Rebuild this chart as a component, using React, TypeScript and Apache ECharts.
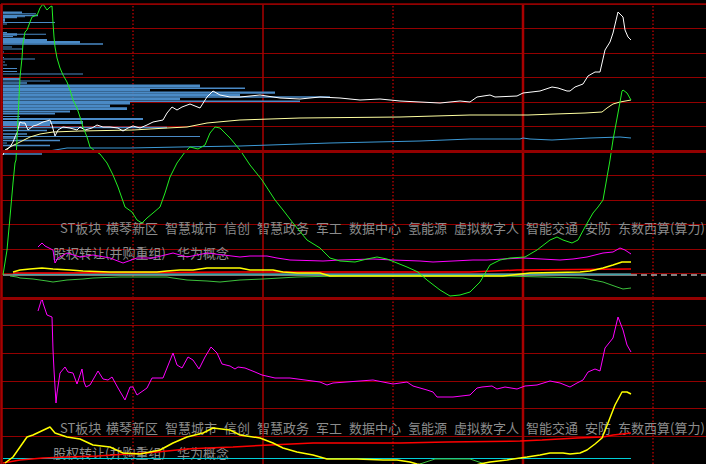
import React, { useEffect, useRef } from "react";
import * as echarts from "echarts";

const W = 706;
const H = 464;

// ---- Upper panel readings: [t, value] ----
const priceLine: number[][] = [
  [0, 143], [2, 148], [7, 151], [10, 156], [12, 161], [14, 165], [17, 176], [19, 175], [22, 175], [25, 168],
  [30, 172], [34, 173], [40, 176], [47, 178], [49, 173], [52, 162], [55, 168], [60, 171], [67, 170], [74, 168],
  [77, 171], [82, 168], [89, 170], [94, 173], [100, 171], [107, 171], [115, 170], [120, 167], [125, 170], [130, 172],
  [137, 170], [144, 173], [150, 176], [160, 178], [164, 185], [169, 191], [174, 188], [179, 191], [187, 194], [197, 190],
  [204, 201], [210, 207], [217, 203], [227, 201], [237, 201], [257, 203], [277, 200], [297, 199], [317, 201], [337, 200],
  [357, 198], [377, 199], [397, 197], [417, 196], [437, 195], [457, 197], [467, 196], [474, 201], [487, 203], [492, 201],
  [514, 202], [520, 205], [537, 207], [549, 211], [555, 210], [564, 207], [567, 207], [572, 211], [580, 214], [585, 222],
  [592, 226], [597, 226], [602, 248], [607, 256], [610, 265], [615, 286], [620, 281], [622, 268], [625, 261], [628, 258],
];

const avgLine: number[][] = [
  [0, 145], [7, 151], [17, 156], [27, 161], [37, 164], [50, 166], [77, 167], [130, 168], [164, 170], [184, 171],
  [204, 175], [237, 178], [297, 180], [397, 181], [467, 183], [525, 183], [552, 184], [582, 185], [599, 186], [604, 190],
  [610, 194], [617, 196], [628, 198],
];

const blueLine: number[][] = [
  [0, 145], [40, 146], [64, 150], [127, 150], [177, 151], [237, 152], [327, 155], [417, 157], [467, 159], [517, 159],
  [520, 160], [527, 159], [549, 158], [567, 159], [587, 160], [617, 161], [628, 160],
];

const greenLine: number[][] = [
  [0, 23], [4, 48], [7, 81], [10, 115], [12, 135], [13, 138], [17, 221], [19, 240], [20, 255], [22, 266],
  [24, 268], [27, 276], [29, 281], [34, 283], [35, 285], [37, 290], [40, 294], [44, 288], [47, 291], [49, 292],
  [50, 275], [51, 261], [52, 251], [54, 240], [57, 230], [60, 223], [64, 216], [67, 208], [70, 198], [74, 190],
  [77, 181], [80, 171], [84, 161], [87, 151], [92, 147], [97, 144], [104, 135], [110, 123], [115, 111], [122, 91],
  [129, 86], [134, 78], [139, 75], [144, 80], [150, 85], [157, 91], [162, 105], [167, 121], [174, 135], [182, 146],
  [187, 151], [195, 149], [202, 153], [207, 165], [212, 171], [217, 170], [227, 160], [237, 148], [247, 133], [259, 118],
  [272, 98], [280, 88], [290, 75], [304, 58], [317, 50], [327, 40], [337, 37], [352, 36], [364, 39], [374, 41],
  [384, 39], [394, 35], [404, 31], [415, 26], [424, 18], [437, 8], [447, 2], [457, 3], [467, 6], [477, 16],
  [487, 33], [497, 38], [507, 40], [522, 41], [534, 48], [547, 58], [554, 61], [560, 58], [569, 55], [575, 58],
  [582, 71], [590, 85], [595, 91], [600, 98], [607, 138], [610, 158], [615, 185], [619, 207], [620, 208], [624, 205],
  [628, 198],
];

const midMagenta: number[][] = [
  [35, 51], [39, 55], [42, 52], [50, 48], [52, 35], [55, 40], [64, 45], [77, 41], [90, 43], [107, 40],
  [120, 35], [134, 40], [150, 40], [170, 45], [184, 41], [204, 45], [237, 41], [247, 42], [264, 42], [274, 40],
  [287, 38], [320, 37], [337, 38], [370, 39], [390, 38], [417, 37], [430, 36], [450, 37], [470, 38], [484, 38],
  [500, 39], [520, 40], [557, 38], [570, 39], [584, 41], [600, 45], [610, 46], [617, 50], [622, 48], [628, 44],
];

const midYellow: number[][] = [
  [10, 26], [17, 28], [27, 29], [39, 30], [50, 29], [67, 28], [80, 27], [107, 26], [154, 26], [164, 27],
  [177, 28], [190, 28], [204, 30], [237, 30], [247, 28], [270, 28], [280, 26], [294, 25], [317, 25], [327, 22],
  [467, 22], [500, 22], [527, 25], [577, 26], [587, 27], [600, 30], [610, 33], [619, 36], [628, 36],
];

const midRed: number[][] = [[10, 25], [50, 25], [237, 26], [467, 26], [514, 28], [628, 29]];
const midCyan: number[][] = [[10, 24], [628, 24]];
const midWhite: number[][] = [[0, 23], [628, 23]];
const midWhiteDashed: number[][] = [[628, 23], [703, 23]];

const midGreen: number[][] = [
  [7, 22], [14, 21], [17, 20], [30, 19], [44, 17], [50, 16], [64, 18], [80, 19], [90, 20], [117, 21],
  [164, 21], [170, 20], [184, 18], [204, 17], [217, 16], [237, 18], [260, 19], [277, 20], [294, 21], [337, 22],
  [500, 22], [540, 21], [580, 20], [600, 16], [614, 11], [620, 9], [628, 10],
];

// volume-by-price bars: [length, level, levelSpan]
const profileBars: number[][] = [
  [19, 285.5, 2], [33, 284.2, 1], [35, 282.5, 1.5], [14, 281, 2.5], [22, 281.3, 1], [2, 278, 3.5], [52, 275.5, 1],
  [4, 274, 1], [4, 265.5, 1], [14, 263.5, 2.5], [43, 263.7, 1], [10, 261.5, 1], [22, 259.5, 1.5], [44, 258, 2],
  [77, 255.7, 2.5], [100, 254, 1.5], [9, 251, 1], [20, 249, 1], [1, 246, 1], [1, 240.5, 1], [32, 239, 1],
  [2, 236, 1], [4, 233, 1], [14, 229.5, 1], [14, 226.5, 1], [80, 224, 1], [17, 219, 2], [47, 217, 1],
  [24, 215, 1.5], [197, 212, 3], [242, 209.7, 1.5], [147, 207.7, 2.5], [272, 205.3, 2.2], [237, 203, 2.5], [327, 201, 1.5],
  [177, 199, 2.5], [297, 196.8, 1.5], [127, 194.8, 2.5], [107, 192.2, 2.8], [124, 189.3, 2.8], [67, 186.5, 1.8], [52, 184.3, 1.8],
  [17, 181.5, 1], [140, 179, 2.2], [80, 175.5, 2.8], [47, 173, 2], [164, 170.5, 1.5], [44, 167.5, 1.5], [24, 164, 1.5],
  [197, 161.5, 1], [14, 160, 1.5], [57, 157.5, 1.5], [4, 155, 1], [47, 152.5, 1.5], [40, 146, 1.5], [39, 144, 1.5],
];

// ---- Lower panel readings: [t, value] ----
const lowMagenta: number[][] = [
  [35, 153], [39, 166], [40, 161], [44, 149], [49, 147], [50, 114], [51, 94], [53, 61], [54, 71], [57, 91],
  [62, 97], [65, 92], [70, 91], [74, 80], [79, 95], [81, 82], [83, 77], [87, 79], [95, 93], [100, 85],
  [105, 84], [109, 87], [115, 76], [122, 64], [127, 77], [130, 77], [134, 69], [144, 76], [149, 86], [154, 86],
  [160, 86], [170, 111], [174, 99], [179, 96], [185, 107], [190, 104], [196, 95], [202, 107], [208, 117], [214, 111],
  [219, 100], [227, 98], [232, 95], [235, 97], [242, 96], [252, 92], [259, 89], [272, 86], [287, 86], [302, 84],
  [317, 82], [324, 79], [330, 81], [370, 84], [390, 80], [404, 82], [410, 78], [424, 74], [430, 72], [434, 67],
  [450, 67], [467, 69], [474, 76], [479, 77], [489, 78], [494, 75], [502, 77], [514, 75], [522, 78], [534, 79],
  [547, 83], [557, 81], [567, 77], [574, 81], [580, 84], [585, 92], [592, 95], [597, 93], [602, 116], [610, 126],
  [615, 147], [620, 134], [624, 119], [628, 112],
];

const lowYellow: number[][] = [
  [2, 1], [10, 7], [17, 17], [24, 27], [30, 29], [47, 37], [52, 31], [64, 27], [77, 25], [90, 19],
  [107, 17], [120, 11], [137, 10], [157, 14], [170, 21], [184, 27], [200, 31], [210, 36], [227, 34], [237, 29],
  [257, 26], [270, 21], [280, 16], [294, 12], [310, 9], [324, 5], [354, 5], [380, 4], [394, 4], [407, 2],
  [414, 0], [440, -4], [460, -4], [477, 0], [487, 2], [504, 4], [524, 7], [537, 9], [547, 11], [560, 11],
  [567, 10], [577, 11], [584, 14], [592, 20], [599, 26], [605, 41], [612, 59], [619, 72], [624, 72], [628, 70],
];

const lowGreen: number[][] = [[417, 0], [432, 5], [467, 5], [482, 0]];

const lowRed: number[][] = [
  [0, 1], [17, 4], [40, 6], [64, 7], [94, 8], [110, 9], [124, 10], [144, 11], [164, 13], [184, 15],
  [204, 16], [230, 17], [267, 19], [310, 21], [397, 21], [444, 22], [517, 23], [539, 24], [574, 26], [600, 27],
  [610, 29], [619, 30], [628, 31],
];

const lowCyan: number[][] = [[0, 5.5], [628, 5.5]];

// time guides: [t, kind]  kind 0 = dotted, 1 = thin solid, 2 = thick solid
const timeGuides: number[][] = [[-1.5, 2], [130, 0], [260, 1], [390, 0], [520, 2], [650, 0]];

// concept labels
const conceptRow1 = [
  "ST板块", "横琴新区", "智慧城市", "信创", "智慧政务", "军工", "数据中心",
  "氢能源", "虚拟数字人", "智能交通", "安防", "东数西算(算力)",
];
const conceptRow2 = ["股权转让(并购重组)", "华为概念"];

const GRID = "#930000";
const GUIDE = "#a80000";
const TEXT = "#8c8c8c";

function advance(s: string): number {
  let w = 0;
  for (const ch of s) w += ch.charCodeAt(0) < 128 ? 6.5 : 13;
  return w;
}

function rowTexts(items: string[], x0: number, y: number) {
  const out: any[] = [];
  let x = x0;
  for (const it of items) {
    out.push({
      type: "text",
      x,
      y,
      silent: true,
      z: 1,
      style: {
        text: it,
        fill: TEXT,
        fontSize: 13,
        fontFamily: "Noto Sans CJK SC",
        verticalAlign: "middle",
      },
    });
    x += advance(it) + 7;
  }
  return out;
}

function guideSeries(grid: number, top: number) {
  return {
    name: "guides" + grid,
    type: "custom",
    xAxisIndex: grid,
    yAxisIndex: grid,
    silent: true,
    z: 1,
    clip: false,
    data: timeGuides,
    renderItem: (params: any, api: any) => {
      const t = api.value(0);
      const kind = api.value(1);
      const a = api.coord([t, 0]);
      const b = api.coord([t, top]);
      return {
        type: "line",
        shape: { x1: a[0], y1: a[1], x2: b[0], y2: b[1] },
        style: {
          stroke: GUIDE,
          lineWidth: kind === 2 ? 2.5 : 1.5,
          lineDash: kind === 0 ? [1.5, 2] : null,
        },
      };
    },
  };
}

function line(name: string, data: number[][], color: string, grid: number, width = 1, extra: any = {}) {
  return {
    name,
    type: "line",
    xAxisIndex: grid,
    yAxisIndex: grid,
    data,
    showSymbol: false,
    symbol: "none",
    silent: true,
    z: 3,
    lineStyle: { color, width },
    ...extra,
  };
}

export default function App() {
  const ref = useRef<HTMLDivElement>(null);
  useEffect(() => {
    document.body.style.margin = "0";
    const chart = echarts.init(ref.current!, null, { renderer: "svg" });
    const axisHidden = { axisLine: { show: false }, axisTick: { show: false }, axisLabel: { show: false } };
    const option: any = {
      animation: false,
      backgroundColor: "#000000",
      grid: [
        { left: 1, right: 0, top: 4, height: 294 },
        { left: 1, right: 0, top: 297.5, height: 166.5 },
      ],
      xAxis: [
        { type: "value", gridIndex: 0, min: -2, max: 703, ...axisHidden, splitLine: { show: false } },
        { type: "value", gridIndex: 1, min: -2, max: 703, ...axisHidden, splitLine: { show: false } },
      ],
      yAxis: [
        {
          type: "value", gridIndex: 0, min: 0, max: 294, interval: 24.5, ...axisHidden,
          splitLine: { show: true, lineStyle: { color: GRID, width: 1 } },
        },
        {
          type: "value", gridIndex: 1, min: 0, max: 166.5, interval: 27.75, ...axisHidden,
          splitLine: { show: true, lineStyle: { color: GRID, width: 1 } },
        },
      ],
      graphic: [
        ...rowTexts(conceptRow1, 60, 227),
        ...rowTexts(conceptRow2, 53, 252),
        ...rowTexts(conceptRow1, 60, 427),
        ...rowTexts(conceptRow2, 53, 452),
      ],
      series: [
        guideSeries(0, 294),
        guideSeries(1, 166.5),
        {
          name: "profile",
          type: "custom",
          xAxisIndex: 0,
          yAxisIndex: 0,
          silent: true,
          z: 2,
          data: profileBars,
          renderItem: (params: any, api: any) => {
            const len = api.value(0);
            const lvl = api.value(1);
            const span = api.value(2);
            const a = api.coord([0, lvl + span / 2]);
            const b = api.coord([len, lvl - span / 2]);
            return {
              type: "rect",
              shape: { x: a[0], y: a[1], width: b[0] - a[0], height: b[1] - a[1] },
              style: { fill: "#4a8ac6" },
            };
          },
        },
        line("zeroLine", midWhite, "#f2f2f2", 0, 1, {
          z: 1,
          markLine: {
            silent: true,
            symbol: "none",
            label: { show: false },
            lineStyle: { color: GRID, opacity: 1 },
            emphasis: { disabled: true },
            data: [
              { yAxis: 147, lineStyle: { color: GRID, type: "solid", width: 3, opacity: 1 } },
              { yAxis: 0, lineStyle: { color: GRID, type: "solid", width: 3, opacity: 1 } },
              { yAxis: 294, lineStyle: { color: GRID, type: "solid", width: 1.5, opacity: 1 } },
            ],
          },
        }),
        line("zeroDash", midWhiteDashed, "#ffffff", 0, 1, { lineStyle: { color: "#ffffff", width: 1, type: [6, 4] } }),
        line("blue", blueLine, "#3d9ad6", 0),
        line("avg", avgLine, "#ffffa0", 0),
        line("price", priceLine, "#ffffff", 0),
        line("midGreen", midGreen, "#3cc03c", 0),
        line("midCyan", midCyan, "#00d0d8", 0),
        line("midRed", midRed, "#ff0000", 0, 1.5),
        line("midYellow", midYellow, "#ffff00", 0, 1.5),
        line("midMagenta", midMagenta, "#ff00ff", 0),
        line("green", greenLine, "#22ee22", 0),
        line("lowCyan", lowCyan, "#00d0d8", 1, 1),
        line("lowGreen", lowGreen, "#3cc03c", 1),
        line("lowRed", lowRed, "#ff0000", 1, 1.5),
        line("lowYellow", lowYellow, "#ffff00", 1, 1.5),
        line("lowMagenta", lowMagenta, "#ff00ff", 1),
      ],
    };
    chart.setOption(option);
    return () => chart.dispose();
  }, []);
  return (
    <div
      ref={ref}
      style={{ position: "fixed", left: 0, top: 0, width: W, height: H, background: "#000" }}
    />
  );
}
